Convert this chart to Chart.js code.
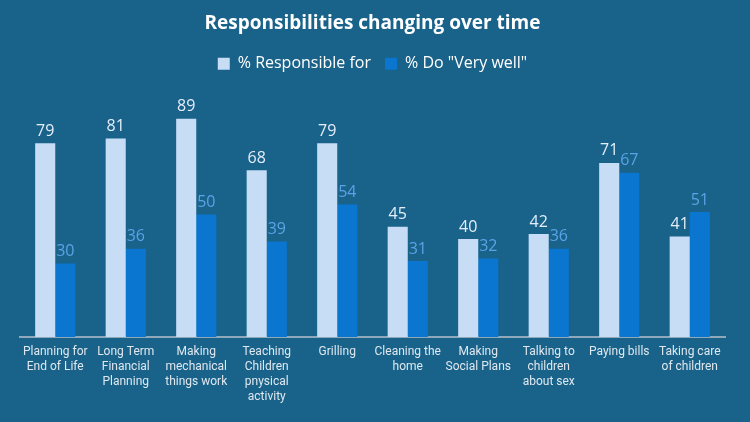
<!DOCTYPE html>
<html>
<head>
<meta charset="utf-8">
<script src="https://cdn.jsdelivr.net/npm/chart.js@4"></script>
<style>
  html, body { margin: 0; padding: 0; background: #19628a; }
  #wrap { width: 750px; height: 422px; }
</style>
</head>
<body>
<div id="wrap"><canvas id="chart"></canvas></div>
<script>
/* data */
const categories = [
  ["Planning for", "End of Life"],
  ["Long Term", "Financial", "Planning"],
  ["Making", "mechanical", "things work"],
  ["Teaching", "Children", "pnysical", "activity"],
  ["Grilling"],
  ["Cleaning the", "home"],
  ["Making", "Social Plans"],
  ["Talking to", "children", "about sex"],
  ["Paying bills"],
  ["Taking care", "of children"]
];
const responsibleFor = [79, 81, 89, 68, 79, 45, 40, 42, 71, 41];
const doVeryWell = [30, 36, 50, 39, 54, 31, 32, 36, 67, 51];

const lightBlue = "#c6ddf5";
const darkBlue = "#0a76cf";

// value labels above each bar
const valueLabels = {
  id: "valueLabels",
  afterDatasetsDraw(chart) {
    const ctx = chart.ctx;
    ctx.save();
    ctx.font = "16px 'Open Sans', sans-serif";
    ctx.textAlign = "center";
    ctx.textBaseline = "bottom";
    chart.data.datasets.forEach((ds, i) => {
      ctx.fillStyle = i === 0 ? "#e4eefa" : "#5aa3e6";
      chart.getDatasetMeta(i).data.forEach((bar, j) => {
        ctx.fillText(ds.data[j], bar.x, bar.y - 4);
      });
    });
    ctx.restore();
  }
};

// extra room under the legend
const legendGap = {
  id: "legendGap",
  beforeInit(chart) {
    const fit = chart.legend.fit;
    chart.legend.fit = function () {
      fit.bind(chart.legend)();
      this.height += 10;
    };
  }
};

new Chart(document.getElementById("chart"), {
  type: "bar",
  data: {
    labels: categories,
    datasets: [
      { label: "% Responsible for", data: responsibleFor, backgroundColor: lightBlue },
      { label: "% Do \"Very well\"", data: doVeryWell, backgroundColor: darkBlue }
    ]
  },
  options: {
    responsive: true,
    maintainAspectRatio: false,
    animation: false,
    datasets: { bar: { categoryPercentage: 0.57, barPercentage: 1 } },
    layout: { padding: { left: 20, right: 25, top: 6, bottom: 10 } },
    plugins: {
      title: {
        display: true,
        text: "Responsibilities changing over time",
        color: "#ffffff",
        font: { family: "'Open Sans', sans-serif", size: 19, weight: "bold" },
        padding: { top: 6, bottom: 7 }
      },
      legend: {
        labels: {
          color: "#ffffff",
          font: { family: "'Open Sans', sans-serif", size: 16 },
          boxWidth: 12,
          boxHeight: 12,
          padding: 14
        }
      },
      tooltip: { enabled: false }
    },
    scales: {
      x: {
        grid: { display: false, drawTicks: false },
        border: { color: "#8fa9bb", width: 2 },
        ticks: {
          color: "#dfe8ef",
          font: { family: "Roboto, sans-serif", size: 12, lineHeight: 1.27 },
          maxRotation: 0,
          autoSkip: false,
          padding: 7
        }
      },
      y: {
        display: false,
        min: 0,
        max: 100
      }
    }
  },
  plugins: [valueLabels, legendGap]
});
</script>
</body>
</html>
